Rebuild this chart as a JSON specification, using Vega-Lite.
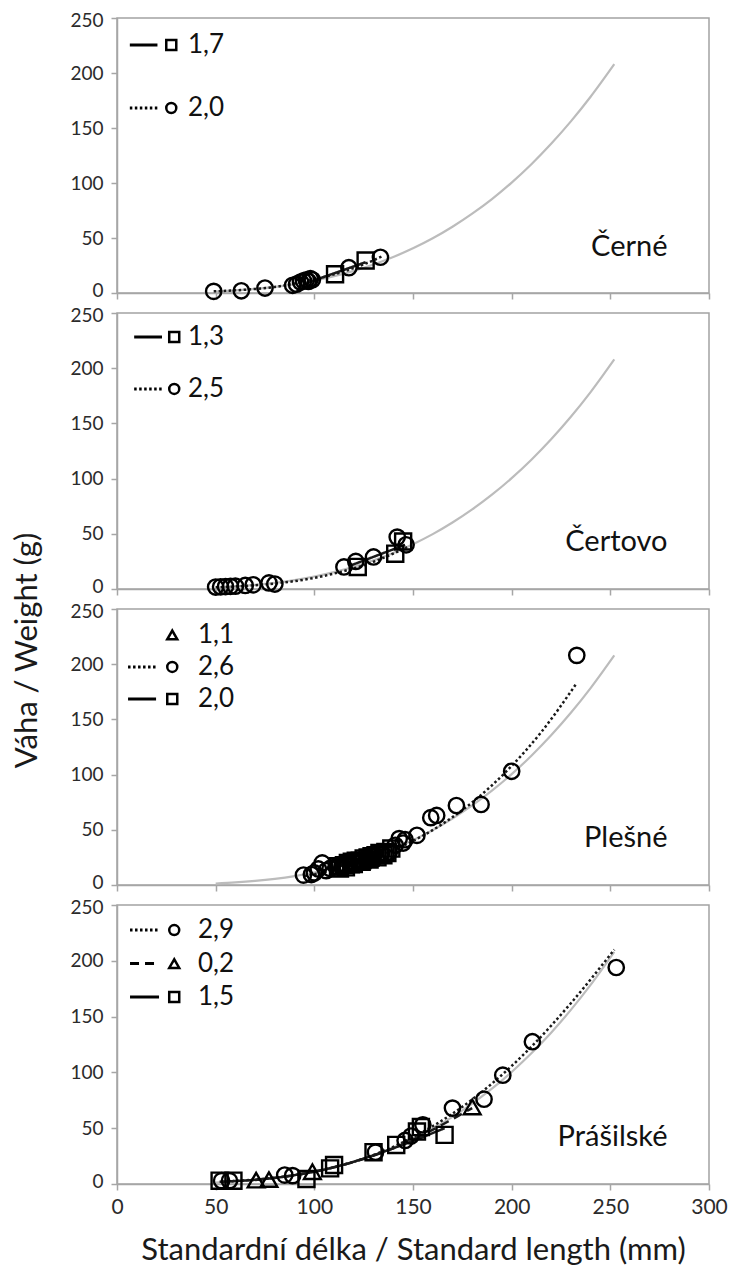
{
  "$schema": "https://vega.github.io/schema/vega-lite/v6.json",
  "padding": {"left": 11, "top": 10, "right": 2, "bottom": 2},
  "config": {
    "font": "Lato",
    "view": {"stroke": "#a3a3a3", "strokeWidth": 1.5},
    "axis": {
      "grid": false,
      "domainColor": "#a6a6a6",
      "domainWidth": 1.5,
      "tickColor": "#a6a6a6",
      "tickWidth": 1.5,
      "tickSize": 6,
      "labelFont": "Lato",
      "labelFontSize": 19,
      "labelColor": "#2b2b2b",
      "labelPadding": 8,
      "titleFont": "Lato",
      "titleFontSize": 31,
      "titleFontWeight": "normal",
      "titleColor": "#1a1a1a"
    },
    "axisY": {
      "labelOffset": {"condition": [{"test": "datum.value == 0", "value": -3}, {"test": "datum.value == 250", "value": 2}], "value": 0}
    }
  },
  "datasets": {
    "krivka": [
      {"L": 50, "W": 1.3}, {"L": 60, "W": 2.3}, {"L": 70, "W": 3.7}, {"L": 80, "W": 5.6},
      {"L": 90, "W": 8.1}, {"L": 100, "W": 11.3}, {"L": 110, "W": 15.3}, {"L": 120, "W": 20.1},
      {"L": 130, "W": 25.9}, {"L": 140, "W": 32.7}, {"L": 150, "W": 40.6}, {"L": 160, "W": 49.7},
      {"L": 170, "W": 60.2}, {"L": 180, "W": 72.1}, {"L": 190, "W": 85.4}, {"L": 200, "W": 100.4},
      {"L": 210, "W": 117.1}, {"L": 220, "W": 135.6}, {"L": 230, "W": 156}, {"L": 240, "W": 178.4},
      {"L": 252, "W": 208}
    ],
    "cerne_body": [
      {"skupina": "kruh", "L": 49, "W": 1.5}, {"skupina": "kruh", "L": 63, "W": 2}, {"skupina": "kruh", "L": 75, "W": 4.5},
      {"skupina": "kruh", "L": 89, "W": 7}, {"skupina": "kruh", "L": 91, "W": 8}, {"skupina": "kruh", "L": 93, "W": 10},
      {"skupina": "kruh", "L": 94.5, "W": 11}, {"skupina": "kruh", "L": 96, "W": 12}, {"skupina": "kruh", "L": 97, "W": 10.5},
      {"skupina": "kruh", "L": 98, "W": 13}, {"skupina": "kruh", "L": 99, "W": 12}, {"skupina": "kruh", "L": 117.5, "W": 23},
      {"skupina": "kruh", "L": 133.5, "W": 32.5},
      {"skupina": "čtverec", "L": 110.5, "W": 17}, {"skupina": "čtverec", "L": 126, "W": 29.5}
    ],
    "cerne_fit": [
      {"skupina": "kruh", "L": 49, "W": 1.5}, {"skupina": "kruh", "L": 65, "W": 3}, {"skupina": "kruh", "L": 80, "W": 5.5},
      {"skupina": "kruh", "L": 95, "W": 10.5}, {"skupina": "kruh", "L": 110, "W": 17}, {"skupina": "kruh", "L": 125, "W": 26},
      {"skupina": "kruh", "L": 134, "W": 33},
      {"skupina": "čtverec", "L": 96, "W": 9}, {"skupina": "čtverec", "L": 126, "W": 28}
    ],
    "cerne_leg": [
      {"poradi": 1, "skupina": "čtverec", "popis": "1,7", "cara": true},
      {"poradi": 2, "skupina": "kruh", "popis": "2,0", "cara": true}
    ],
    "certovo_body": [
      {"skupina": "kruh", "L": 50, "W": 1.8}, {"skupina": "kruh", "L": 52.5, "W": 2}, {"skupina": "kruh", "L": 55, "W": 2.2},
      {"skupina": "kruh", "L": 57.5, "W": 2.4}, {"skupina": "kruh", "L": 60, "W": 2.6}, {"skupina": "kruh", "L": 65, "W": 3.2},
      {"skupina": "kruh", "L": 69, "W": 3.8}, {"skupina": "kruh", "L": 77, "W": 5.5}, {"skupina": "kruh", "L": 80, "W": 4.5},
      {"skupina": "kruh", "L": 115, "W": 20}, {"skupina": "kruh", "L": 121, "W": 25}, {"skupina": "kruh", "L": 130, "W": 29},
      {"skupina": "kruh", "L": 142, "W": 47}, {"skupina": "kruh", "L": 146.5, "W": 40},
      {"skupina": "čtverec", "L": 122, "W": 20}, {"skupina": "čtverec", "L": 141, "W": 32}, {"skupina": "čtverec", "L": 145, "W": 43}
    ],
    "certovo_fit": [
      {"skupina": "kruh", "L": 50, "W": 1.5}, {"skupina": "kruh", "L": 65, "W": 2.8}, {"skupina": "kruh", "L": 80, "W": 5},
      {"skupina": "kruh", "L": 95, "W": 8.5}, {"skupina": "kruh", "L": 110, "W": 14}, {"skupina": "kruh", "L": 125, "W": 21.5},
      {"skupina": "kruh", "L": 140, "W": 32}, {"skupina": "kruh", "L": 147, "W": 38},
      {"skupina": "čtverec", "L": 118, "W": 21}, {"skupina": "čtverec", "L": 146, "W": 40}
    ],
    "certovo_leg": [
      {"poradi": 1, "skupina": "čtverec", "popis": "1,3", "cara": true},
      {"poradi": 2, "skupina": "kruh", "popis": "2,5", "cara": true}
    ],
    "plesne_body": [
      {"skupina": "čtverec", "L": 112, "W": 17}, {"skupina": "čtverec", "L": 115, "W": 18}, {"skupina": "čtverec", "L": 117, "W": 20},
      {"skupina": "čtverec", "L": 119, "W": 21}, {"skupina": "čtverec", "L": 121, "W": 22}, {"skupina": "čtverec", "L": 123, "W": 22},
      {"skupina": "čtverec", "L": 125, "W": 24}, {"skupina": "čtverec", "L": 127, "W": 25}, {"skupina": "čtverec", "L": 129, "W": 26},
      {"skupina": "čtverec", "L": 131, "W": 27}, {"skupina": "čtverec", "L": 133, "W": 29}, {"skupina": "čtverec", "L": 136, "W": 30},
      {"skupina": "čtverec", "L": 139, "W": 33},
      {"skupina": "čtverec", "L": 113, "W": 15}, {"skupina": "čtverec", "L": 116, "W": 16}, {"skupina": "čtverec", "L": 120, "W": 19},
      {"skupina": "čtverec", "L": 124, "W": 21}, {"skupina": "čtverec", "L": 128, "W": 23}, {"skupina": "čtverec", "L": 132, "W": 25},
      {"skupina": "čtverec", "L": 135, "W": 27}, {"skupina": "čtverec", "L": 137, "W": 29},
      {"skupina": "trojúhelník", "L": 118, "W": 18}, {"skupina": "trojúhelník", "L": 124, "W": 22}, {"skupina": "trojúhelník", "L": 128, "W": 24},
      {"skupina": "kruh", "L": 94.5, "W": 9}, {"skupina": "kruh", "L": 98.5, "W": 9.5}, {"skupina": "kruh", "L": 100, "W": 11},
      {"skupina": "kruh", "L": 102, "W": 14.5}, {"skupina": "kruh", "L": 104, "W": 20}, {"skupina": "kruh", "L": 106, "W": 13},
      {"skupina": "kruh", "L": 108, "W": 15}, {"skupina": "kruh", "L": 111, "W": 16.5}, {"skupina": "kruh", "L": 114, "W": 17},
      {"skupina": "kruh", "L": 118, "W": 19}, {"skupina": "kruh", "L": 122, "W": 21}, {"skupina": "kruh", "L": 126, "W": 23},
      {"skupina": "kruh", "L": 130, "W": 26}, {"skupina": "kruh", "L": 134, "W": 28}, {"skupina": "kruh", "L": 138, "W": 30},
      {"skupina": "kruh", "L": 141, "W": 36}, {"skupina": "kruh", "L": 143, "W": 42}, {"skupina": "kruh", "L": 145, "W": 38},
      {"skupina": "kruh", "L": 146, "W": 41}, {"skupina": "kruh", "L": 152, "W": 45}, {"skupina": "kruh", "L": 159, "W": 61},
      {"skupina": "kruh", "L": 162, "W": 63}, {"skupina": "kruh", "L": 172, "W": 72}, {"skupina": "kruh", "L": 184.5, "W": 73},
      {"skupina": "kruh", "L": 200, "W": 103}, {"skupina": "kruh", "L": 233, "W": 208}
    ],
    "plesne_fit": [
      {"skupina": "kruh", "L": 95, "W": 8.2}, {"skupina": "kruh", "L": 110, "W": 13.6}, {"skupina": "kruh", "L": 130, "W": 24.3},
      {"skupina": "kruh", "L": 150, "W": 39.9}, {"skupina": "kruh", "L": 165, "W": 55.4}, {"skupina": "kruh", "L": 181, "W": 76.3},
      {"skupina": "kruh", "L": 199, "W": 106}, {"skupina": "kruh", "L": 215, "W": 138.5}, {"skupina": "kruh", "L": 233, "W": 183},
      {"skupina": "čtverec", "L": 110, "W": 15}, {"skupina": "čtverec", "L": 142, "W": 37}
    ],
    "plesne_leg": [
      {"poradi": 1, "skupina": "trojúhelník", "popis": "1,1", "cara": false},
      {"poradi": 2, "skupina": "kruh", "popis": "2,6", "cara": true},
      {"poradi": 3, "skupina": "čtverec", "popis": "2,0", "cara": true}
    ],
    "prasilske_body": [
      {"skupina": "čtverec", "L": 52, "W": 3}, {"skupina": "čtverec", "L": 59, "W": 3}, {"skupina": "čtverec", "L": 96, "W": 4.5},
      {"skupina": "čtverec", "L": 108, "W": 14}, {"skupina": "čtverec", "L": 110, "W": 17}, {"skupina": "čtverec", "L": 130, "W": 28.5},
      {"skupina": "čtverec", "L": 141.5, "W": 35}, {"skupina": "čtverec", "L": 152, "W": 47}, {"skupina": "čtverec", "L": 154, "W": 51},
      {"skupina": "čtverec", "L": 166, "W": 44},
      {"skupina": "trojúhelník", "L": 70.5, "W": 3.5}, {"skupina": "trojúhelník", "L": 77, "W": 4}, {"skupina": "trojúhelník", "L": 99, "W": 11},
      {"skupina": "trojúhelník", "L": 180, "W": 69},
      {"skupina": "kruh", "L": 53, "W": 3}, {"skupina": "kruh", "L": 57, "W": 3}, {"skupina": "kruh", "L": 85, "W": 8},
      {"skupina": "kruh", "L": 89, "W": 7.5}, {"skupina": "kruh", "L": 131, "W": 28.5}, {"skupina": "kruh", "L": 146, "W": 39},
      {"skupina": "kruh", "L": 149, "W": 43}, {"skupina": "kruh", "L": 155, "W": 53}, {"skupina": "kruh", "L": 170, "W": 68},
      {"skupina": "kruh", "L": 186, "W": 76}, {"skupina": "kruh", "L": 195.5, "W": 97.5}, {"skupina": "kruh", "L": 210.5, "W": 127.5},
      {"skupina": "kruh", "L": 253, "W": 194}
    ],
    "prasilske_fit": [
      {"skupina": "kruh", "L": 53, "W": 2}, {"skupina": "kruh", "L": 70, "W": 4}, {"skupina": "kruh", "L": 90, "W": 8},
      {"skupina": "kruh", "L": 110, "W": 15}, {"skupina": "kruh", "L": 130, "W": 26}, {"skupina": "kruh", "L": 150, "W": 42},
      {"skupina": "kruh", "L": 170, "W": 63}, {"skupina": "kruh", "L": 190, "W": 90}, {"skupina": "kruh", "L": 210, "W": 123},
      {"skupina": "kruh", "L": 230, "W": 162}, {"skupina": "kruh", "L": 252, "W": 210},
      {"skupina": "trojúhelník", "L": 70, "W": 3.5}, {"skupina": "trojúhelník", "L": 100, "W": 11}, {"skupina": "trojúhelník", "L": 140, "W": 32},
      {"skupina": "trojúhelník", "L": 180, "W": 68},
      {"skupina": "čtverec", "L": 52, "W": 2}, {"skupina": "čtverec", "L": 80, "W": 5.5}, {"skupina": "čtverec", "L": 110, "W": 15},
      {"skupina": "čtverec", "L": 140, "W": 32}, {"skupina": "čtverec", "L": 166, "W": 50}
    ],
    "prasilske_leg": [
      {"poradi": 1, "skupina": "kruh", "popis": "2,9", "cara": true},
      {"poradi": 2, "skupina": "trojúhelník", "popis": "0,2", "cara": true},
      {"poradi": 3, "skupina": "čtverec", "popis": "1,5", "cara": true}
    ]
  },
  "vconcat": [
    {
      "width": 592, "height": 275,
      "resolve": {"scale": {"y": "independent"}},
      "layer": [
        {
          "encoding": {
            "x": {"field": "L", "type": "quantitative", "scale": {"domain": [0, 300]}, "axis": {"values": [0, 50, 100, 150, 200, 250, 300], "labels": false, "title": null}},
            "y": {"field": "W", "type": "quantitative", "scale": {"domain": [0, 250]}, "axis": {"values": [0, 50, 100, 150, 200, 250], "title": null}}
          },
          "layer": [
            {"data": {"name": "krivka"}, "mark": {"type": "line", "color": "#bcbcbc", "strokeWidth": 2.2, "interpolate": "monotone"}},
            {"data": {"name": "cerne_fit"}, "mark": {"type": "line", "color": "#1a1a1a", "strokeWidth": 2.5, "interpolate": "monotone"},
             "encoding": {"detail": {"field": "skupina"}, "strokeDash": {"field": "skupina", "type": "nominal", "scale": {"domain": ["kruh", "čtverec", "trojúhelník"], "range": [[2.5, 2.5], [1, 0], [9, 6]]}, "legend": null}}},
            {"data": {"name": "cerne_body"}, "mark": {"type": "point", "filled": false, "stroke": "#000", "strokeWidth": 2.4, "opacity": 1},
             "encoding": {"shape": {"field": "skupina", "type": "nominal", "scale": {"domain": ["kruh", "čtverec", "trojúhelník"], "range": ["circle", "square", "triangle-up"]}, "legend": null},
                          "size": {"field": "skupina", "type": "nominal", "scale": {"domain": ["kruh", "čtverec", "trojúhelník"], "range": [235, 280, 230]}, "legend": null}}}
          ]
        },
        {
          "data": {"values": [{"jezero": "Černé"}]},
          "mark": {"type": "text", "align": "right", "baseline": "alphabetic", "fontSize": 29, "color": "#111"},
          "encoding": {"x": {"datum": 279}, "y": {"datum": 34, "scale": {"domain": [0, 250]}, "axis": null}, "text": {"field": "jezero"}}
        },
        {
          "data": {"name": "cerne_leg"},
          "encoding": {"y": {"field": "poradi", "type": "quantitative", "scale": {"domain": [0.57, 4.94], "reverse": true}, "axis": null}},
          "layer": [
            {"transform": [{"filter": "datum.cara"}], "mark": {"type": "rule", "color": "#000", "strokeWidth": 3},
             "encoding": {"x": {"datum": 6.5}, "x2": {"datum": 20.5}, "strokeDash": {"field": "skupina", "type": "nominal", "legend": null}}},
            {"mark": {"type": "point", "filled": false, "stroke": "#000", "strokeWidth": 2.5, "size": 100, "opacity": 1},
             "encoding": {"x": {"datum": 27.5}, "shape": {"field": "skupina", "type": "nominal", "legend": null}}},
            {"mark": {"type": "text", "align": "left", "baseline": "middle", "fontSize": 26, "color": "#111"},
             "encoding": {"x": {"datum": 36}, "text": {"field": "popis"}}}
          ]
        }
      ]
    },
    {
      "width": 592, "height": 276,
      "resolve": {"scale": {"y": "independent"}},
      "layer": [
        {
          "encoding": {
            "x": {"field": "L", "type": "quantitative", "scale": {"domain": [0, 300]}, "axis": {"values": [0, 50, 100, 150, 200, 250, 300], "labels": false, "title": null}},
            "y": {"field": "W", "type": "quantitative", "scale": {"domain": [0, 250]}, "axis": {"values": [0, 50, 100, 150, 200, 250], "title": "Váha / Weight (g)", "titleY": 337, "titlePadding": 26}}
          },
          "layer": [
            {"data": {"name": "krivka"}, "mark": {"type": "line", "color": "#bcbcbc", "strokeWidth": 2.2, "interpolate": "monotone"}},
            {"data": {"name": "certovo_fit"}, "mark": {"type": "line", "color": "#1a1a1a", "strokeWidth": 2.5, "interpolate": "monotone"},
             "encoding": {"detail": {"field": "skupina"}, "strokeDash": {"field": "skupina", "type": "nominal", "scale": {"domain": ["kruh", "čtverec", "trojúhelník"], "range": [[2.5, 2.5], [1, 0], [9, 6]]}, "legend": null}}},
            {"data": {"name": "certovo_body"}, "mark": {"type": "point", "filled": false, "stroke": "#000", "strokeWidth": 2.4, "opacity": 1},
             "encoding": {"shape": {"field": "skupina", "type": "nominal", "scale": {"domain": ["kruh", "čtverec", "trojúhelník"], "range": ["circle", "square", "triangle-up"]}, "legend": null},
                          "size": {"field": "skupina", "type": "nominal", "scale": {"domain": ["kruh", "čtverec", "trojúhelník"], "range": [235, 280, 230]}, "legend": null}}}
          ]
        },
        {
          "data": {"values": [{"jezero": "Čertovo"}]},
          "mark": {"type": "text", "align": "right", "baseline": "alphabetic", "fontSize": 29, "color": "#111"},
          "encoding": {"x": {"datum": 279}, "y": {"datum": 34, "scale": {"domain": [0, 250]}, "axis": null}, "text": {"field": "jezero"}}
        },
        {
          "data": {"name": "certovo_leg"},
          "encoding": {"y": {"field": "poradi", "type": "quantitative", "scale": {"domain": [0.54, 5.85], "reverse": true}, "axis": null}},
          "layer": [
            {"transform": [{"filter": "datum.cara"}], "mark": {"type": "rule", "color": "#000", "strokeWidth": 3},
             "encoding": {"x": {"datum": 8.7}, "x2": {"datum": 22.8}, "strokeDash": {"field": "skupina", "type": "nominal", "legend": null}}},
            {"mark": {"type": "point", "filled": false, "stroke": "#000", "strokeWidth": 2.5, "size": 100, "opacity": 1},
             "encoding": {"x": {"datum": 29}, "shape": {"field": "skupina", "type": "nominal", "legend": null}}},
            {"mark": {"type": "text", "align": "left", "baseline": "middle", "fontSize": 26, "color": "#111"},
             "encoding": {"x": {"datum": 36}, "text": {"field": "popis"}}}
          ]
        }
      ]
    },
    {
      "width": 592, "height": 276,
      "resolve": {"scale": {"y": "independent"}},
      "layer": [
        {
          "encoding": {
            "x": {"field": "L", "type": "quantitative", "scale": {"domain": [0, 300]}, "axis": {"values": [0, 50, 100, 150, 200, 250, 300], "labels": false, "title": null}},
            "y": {"field": "W", "type": "quantitative", "scale": {"domain": [0, 250]}, "axis": {"values": [0, 50, 100, 150, 200, 250], "title": null}}
          },
          "layer": [
            {"data": {"name": "krivka"}, "mark": {"type": "line", "color": "#bcbcbc", "strokeWidth": 2.2, "interpolate": "monotone"}},
            {"data": {"name": "plesne_fit"}, "mark": {"type": "line", "color": "#1a1a1a", "strokeWidth": 2.5, "interpolate": "monotone"},
             "encoding": {"detail": {"field": "skupina"}, "strokeDash": {"field": "skupina", "type": "nominal", "scale": {"domain": ["kruh", "čtverec", "trojúhelník"], "range": [[2.5, 2.5], [1, 0], [9, 6]]}, "legend": null}}},
            {"data": {"name": "plesne_body"}, "mark": {"type": "point", "filled": false, "stroke": "#000", "strokeWidth": 2.4, "opacity": 1},
             "encoding": {"shape": {"field": "skupina", "type": "nominal", "scale": {"domain": ["kruh", "čtverec", "trojúhelník"], "range": ["circle", "square", "triangle-up"]}, "legend": null},
                          "size": {"field": "skupina", "type": "nominal", "scale": {"domain": ["kruh", "čtverec", "trojúhelník"], "range": [235, 160, 150]}, "legend": null}}}
          ]
        },
        {
          "data": {"values": [{"jezero": "Plešné"}]},
          "mark": {"type": "text", "align": "right", "baseline": "alphabetic", "fontSize": 29, "color": "#111"},
          "encoding": {"x": {"datum": 279}, "y": {"datum": 34, "scale": {"domain": [0, 250]}, "axis": null}, "text": {"field": "jezero"}}
        },
        {
          "data": {"name": "plesne_leg"},
          "encoding": {"y": {"field": "poradi", "type": "quantitative", "scale": {"domain": [0.19, 8.81], "reverse": true}, "axis": null}},
          "layer": [
            {"transform": [{"filter": "datum.cara"}], "mark": {"type": "rule", "color": "#000", "strokeWidth": 3},
             "encoding": {"x": {"datum": 5.6}, "x2": {"datum": 19.8}, "strokeDash": {"field": "skupina", "type": "nominal", "legend": null}}},
            {"mark": {"type": "point", "filled": false, "stroke": "#000", "strokeWidth": 2.5, "size": 100, "opacity": 1},
             "encoding": {"x": {"datum": 28}, "shape": {"field": "skupina", "type": "nominal", "legend": null}}},
            {"mark": {"type": "text", "align": "left", "baseline": "middle", "fontSize": 26, "color": "#111"},
             "encoding": {"x": {"datum": 41}, "text": {"field": "popis"}}}
          ]
        }
      ]
    },
    {
      "width": 592, "height": 279,
      "resolve": {"scale": {"y": "independent"}},
      "layer": [
        {
          "encoding": {
            "x": {"field": "L", "type": "quantitative", "scale": {"domain": [0, 300]}, "axis": {"values": [0, 50, 100, 150, 200, 250, 300], "labelFlush": false, "labelFontSize": 21, "labelPadding": 6, "title": "Standardní délka / Standard length (mm)", "titlePadding": 18}},
            "y": {"field": "W", "type": "quantitative", "scale": {"domain": [0, 250]}, "axis": {"values": [0, 50, 100, 150, 200, 250], "title": null}}
          },
          "layer": [
            {"data": {"name": "krivka"}, "mark": {"type": "line", "color": "#bcbcbc", "strokeWidth": 2.2, "interpolate": "monotone"}},
            {"data": {"name": "prasilske_fit"}, "mark": {"type": "line", "color": "#1a1a1a", "strokeWidth": 2.5, "interpolate": "monotone"},
             "encoding": {"detail": {"field": "skupina"}, "strokeDash": {"field": "skupina", "type": "nominal", "scale": {"domain": ["kruh", "čtverec", "trojúhelník"], "range": [[2.5, 2.5], [1, 0], [9, 6]]}, "legend": null}}},
            {"data": {"name": "prasilske_body"}, "mark": {"type": "point", "filled": false, "stroke": "#000", "strokeWidth": 2.4, "opacity": 1},
             "encoding": {"shape": {"field": "skupina", "type": "nominal", "scale": {"domain": ["kruh", "čtverec", "trojúhelník"], "range": ["circle", "square", "triangle-up"]}, "legend": null},
                          "size": {"field": "skupina", "type": "nominal", "scale": {"domain": ["kruh", "čtverec", "trojúhelník"], "range": [235, 280, 230]}, "legend": null}}}
          ]
        },
        {
          "data": {"values": [{"jezero": "Prášilské"}]},
          "mark": {"type": "text", "align": "right", "baseline": "alphabetic", "fontSize": 29, "color": "#111"},
          "encoding": {"x": {"datum": 279}, "y": {"datum": 34, "scale": {"domain": [0, 250]}, "axis": null}, "text": {"field": "jezero"}}
        },
        {
          "data": {"name": "prasilske_leg"},
          "encoding": {"y": {"field": "poradi", "type": "quantitative", "scale": {"domain": [0.25, 8.58], "reverse": true}, "axis": null}},
          "layer": [
            {"transform": [{"filter": "datum.cara"}], "mark": {"type": "rule", "color": "#000", "strokeWidth": 3},
             "encoding": {"x": {"datum": 6.6}, "x2": {"datum": 21.3}, "strokeDash": {"field": "skupina", "type": "nominal", "legend": null}}},
            {"mark": {"type": "point", "filled": false, "stroke": "#000", "strokeWidth": 2.5, "size": 100, "opacity": 1},
             "encoding": {"x": {"datum": 29}, "shape": {"field": "skupina", "type": "nominal", "legend": null}}},
            {"mark": {"type": "text", "align": "left", "baseline": "middle", "fontSize": 26, "color": "#111"},
             "encoding": {"x": {"datum": 41}, "text": {"field": "popis"}}}
          ]
        }
      ]
    }
  ],
  "spacing": 20,
  "bounds": "flush"
}
